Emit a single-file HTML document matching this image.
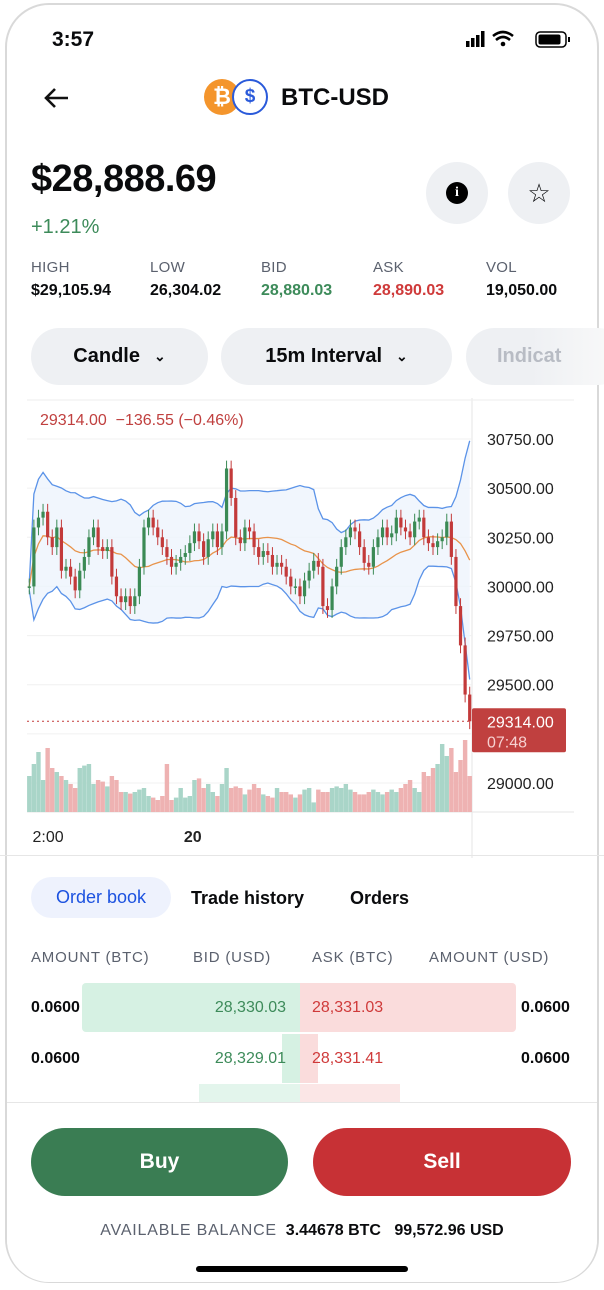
<!DOCTYPE html>
<html><head><meta charset="utf-8"><style>
*{box-sizing:border-box;margin:0;padding:0}
body{width:604px;height:1290px;background:#fff;font-family:"Liberation Sans",sans-serif;position:relative;overflow:hidden;color:#0a0b0d}
.frame{position:absolute;left:5px;top:3px;width:594px;height:1280px;border:2px solid #d9d9d9;border-radius:44px;overflow:hidden;background:#fff}
.abs{position:absolute}
.stat .l{font-size:15px;color:#5b616e;letter-spacing:.3px}
.stat .v{font-size:16px;font-weight:bold;margin-top:6px}
.pill{position:absolute;top:328px;height:57px;border-radius:29px;background:#eef0f3;font-size:20px;font-weight:bold;display:flex;align-items:center;justify-content:center;gap:14px}
.obh{font-size:15px;color:#5b616e;letter-spacing:.8px;top:949px}
.row{font-size:16px;font-weight:bold}
</style></head><body>
<div class="frame"></div>
<div class="abs" style="left:52px;top:28px;font-size:21px;font-weight:bold">3:57</div>
<svg class="abs" style="left:466px;top:30px" width="108" height="18">
<rect x="0" y="11" width="3.5" height="6" fill="#000"/><rect x="5" y="8" width="3.5" height="9" fill="#000"/><rect x="10" y="5" width="3.5" height="12" fill="#000"/><rect x="15" y="1" width="3.5" height="16" fill="#000"/>
<path d="M27 6 Q37 -2 47 6 M30 10 Q37 4 44 10" stroke="#000" stroke-width="2.6" fill="none"/><circle cx="37" cy="14" r="2.3" fill="#000"/>
<rect x="70" y="2" width="30" height="15" rx="4" fill="none" stroke="#000" stroke-width="1.5"/><rect x="72.5" y="4.5" width="22" height="10" rx="2" fill="#000"/><rect x="102" y="7" width="2" height="5" fill="#000"/></svg>
<svg class="abs" style="left:42px;top:86px" width="28" height="24"><path d="M26 12H4 M13 3 L4 12 L13 21" stroke="#111" stroke-width="2.6" fill="none"/></svg>
<div class="abs" style="left:204px;top:79px;width:36px;height:36px;border-radius:50%;background:#f4952c;color:#fff;font-weight:bold;font-size:22px;text-align:center;line-height:36px">₿</div>
<div class="abs" style="left:232px;top:79px;width:36px;height:36px;border-radius:50%;background:#fff;border:2.5px solid #2a5ada;color:#2a5ada;font-weight:bold;font-size:19px;text-align:center;line-height:31px">$</div>
<div class="abs" style="left:281px;top:84px;font-size:24px;font-weight:bold">BTC-USD</div>
<div class="abs" style="left:31px;top:158px;font-size:38px;font-weight:bold;letter-spacing:-.5px">$28,888.69</div>
<div class="abs" style="left:31px;top:216px;font-size:20px;color:#3d8b5a">+1.21%</div>
<div class="abs" style="left:426px;top:162px;width:62px;height:62px;border-radius:50%;background:#eef0f3"><div style="position:absolute;left:20px;top:20px;width:22px;height:22px;border-radius:50%;background:#000;color:#fff;font-size:14px;font-weight:bold;text-align:center;line-height:22px;font-family:'Liberation Serif',serif">i</div></div>
<div class="abs" style="left:508px;top:162px;width:62px;height:62px;border-radius:50%;background:#eef0f3;font-size:26px;text-align:center;line-height:62px">☆</div>
<div class="abs stat" style="left:31px;top:259px"><div class="l">HIGH</div><div class="v">$29,105.94</div></div>
<div class="abs stat" style="left:150px;top:259px"><div class="l">LOW</div><div class="v">26,304.02</div></div>
<div class="abs stat" style="left:261px;top:259px"><div class="l">BID</div><div class="v" style="color:#3d8b5a">28,880.03</div></div>
<div class="abs stat" style="left:373px;top:259px"><div class="l">ASK</div><div class="v" style="color:#cf3a3a">28,890.03</div></div>
<div class="abs stat" style="left:486px;top:259px"><div class="l">VOL</div><div class="v">19,050.00</div></div>
<div class="pill" style="left:31px;width:177px">Candle <span style="font-size:14px">⌄</span></div>
<div class="pill" style="left:221px;width:231px">15m Interval <span style="font-size:14px">⌄</span></div>
<div class="pill" style="left:466px;width:160px;justify-content:flex-start;padding-left:31px;color:#b8bcc4;background:linear-gradient(90deg,#eef0f3 40%,#fafafa)">Indicat</div>
<svg id="chart" class="abs" style="left:0;top:398px" width="604" height="460"></svg>
<div class="abs" style="left:0;top:855px;width:604px;height:1px;background:#e6e6e6"></div>
<div class="abs" style="left:31px;top:877px;width:140px;height:41px;border-radius:21px;background:#eef2fd;color:#1c52e0;font-size:18px;text-align:center;line-height:41px">Order book</div>
<div class="abs" style="left:191px;top:888px;font-size:18px;font-weight:bold">Trade history</div>
<div class="abs" style="left:350px;top:888px;font-size:18px;font-weight:bold">Orders</div>
<div class="abs obh" style="left:31px">AMOUNT (BTC)</div>
<div class="abs obh" style="left:193px">BID (USD)</div>
<div class="abs obh" style="left:312px">ASK (BTC)</div>
<div class="abs obh" style="left:429px">AMOUNT (USD)</div>
<div class="abs" style="left:82px;top:983px;width:218px;height:49px;background:#d6f1e3;border-radius:4px 0 0 4px"></div>
<div class="abs" style="left:300px;top:983px;width:216px;height:49px;background:#fadcdc;border-radius:0 4px 4px 0"></div>
<div class="abs" style="left:282px;top:1034px;width:18px;height:49px;background:#d6f1e3"></div>
<div class="abs" style="left:300px;top:1034px;width:18px;height:49px;background:#fadcdc"></div>
<div class="abs" style="left:199px;top:1084px;width:101px;height:20px;background:#e3f5ec"></div>
<div class="abs" style="left:300px;top:1084px;width:100px;height:20px;background:#fbe6e6"></div>
<div class="abs row" style="left:31px;top:999px">0.0600</div>
<div class="abs row" style="left:200px;top:999px;width:86px;text-align:right;color:#3d8b5a;font-weight:normal">28,330.03</div>
<div class="abs row" style="left:312px;top:999px;color:#cf3a3a;font-weight:normal">28,331.03</div>
<div class="abs row" style="left:521px;top:999px">0.0600</div>
<div class="abs row" style="left:31px;top:1050px">0.0600</div>
<div class="abs row" style="left:200px;top:1050px;width:86px;text-align:right;color:#3d8b5a;font-weight:normal">28,329.01</div>
<div class="abs row" style="left:312px;top:1050px;color:#cf3a3a;font-weight:normal">28,331.41</div>
<div class="abs row" style="left:521px;top:1050px">0.0600</div>
<div class="abs" style="left:7px;top:1102px;width:590px;height:180px;background:#fff;border-top:1px solid #e6e6e6;border-radius:0 0 42px 42px"></div>
<div class="abs" style="left:31px;top:1128px;width:257px;height:68px;border-radius:34px;background:#3a7d53;color:#fff;font-size:21px;font-weight:bold;text-align:center;line-height:68px">Buy</div>
<div class="abs" style="left:313px;top:1128px;width:258px;height:68px;border-radius:34px;background:#c73135;color:#fff;font-size:21px;font-weight:bold;text-align:center;line-height:68px">Sell</div>
<div class="abs" style="left:0;top:1222px;width:604px;text-align:center;font-size:16px"><span style="color:#5b616e;letter-spacing:.8px">AVAILABLE BALANCE</span>&nbsp;&nbsp;<b>3.44678 BTC</b>&nbsp;&nbsp;&nbsp;<b>99,572.96 USD</b></div>
<div class="abs" style="left:196px;top:1266px;width:212px;height:6px;border-radius:3px;background:#000"></div>
<script>
const closes=[30000,30300,30350,30380,30250,30200,30300,30080,30100,30050,29980,30080,30150,30250,30300,30200,30180,30200,30050,29950,29920,29950,29900,29950,30100,30300,30350,30300,30250,30200,30150,30100,30120,30150,30170,30220,30280,30230,30150,30240,30280,30200,30280,30600,30450,30250,30220,30300,30280,30200,30150,30180,30160,30100,30120,30100,30050,30000,30000,29950,30030,30080,30130,30100,29900,29880,30000,30100,30200,30250,30300,30280,30200,30120,30100,30200,30250,30300,30250,30270,30350,30300,30280,30250,30330,30350,30250,30220,30200,30230,30250,30330,30150,29900,29700,29450,29314];
const volumes=[45,60,75,40,80,55,50,45,40,35,30,55,58,60,35,40,38,32,45,40,25,25,23,25,28,30,20,18,15,20,60,15,18,30,18,20,40,42,30,35,25,20,35,55,30,32,30,22,28,35,30,22,20,18,30,25,25,22,18,22,28,30,12,28,25,25,30,32,30,35,28,25,22,22,25,28,25,22,25,28,25,30,35,40,30,25,50,45,55,60,85,70,80,50,65,90,45];
const yTicks=[30750,30500,30250,30000,29750,29500,29000];
const xLabels=["2:00","20"];const xLabelIdx=[2,35];
const lastPrice=29314;
const NS="http://www.w3.org/2000/svg";const svg=document.getElementById('chart');
const OY=398,L=27,R=472;
function y(p){return 439+(30750-p)*0.19657-OY;}
function x(i){return L+(i+0.5)*(R-L)/closes.length;}
const cw=(R-L)/closes.length*0.7;
function mk(t,a){const e=document.createElementNS(NS,t);for(const k in a)e.setAttribute(k,a[k]);svg.appendChild(e);return e;}
let e;
e=mk('line',{x1:R,y1:0,x2:R,y2:460,stroke:'#e6e6e6'});
mk('line',{x1:27,y1:2,x2:574,y2:2,stroke:'#eee'});
mk('line',{x1:27,y1:414,x2:574,y2:414,stroke:'#e6e6e6'});
yTicks.concat([29250]).forEach(t=>{mk('line',{x1:L,y1:y(t),x2:R,y2:y(t),stroke:'#f0f0f0'});});
yTicks.forEach(t=>{e=mk('text',{x:487,y:y(t)+6,'font-size':16,fill:'#222'});e.textContent=t.toFixed(2);});
xLabels.forEach((s,k)=>{e=mk('text',{x:x(xLabelIdx[k])-6,y:444,'font-size':16,fill:'#222','font-weight':k?'bold':'normal'});e.textContent=s;});
const N=20,mid=[],up=[],lo=[];
closes.forEach((c,i)=>{const s=closes.slice(Math.max(0,i-N+1),i+1);const m=s.reduce((a,b)=>a+b,0)/s.length;const sd=Math.sqrt(s.reduce((a,b)=>a+(b-m)*(b-m),0)/s.length);mid.push(m);up.push(m+2*sd+20);lo.push(m-2*sd-20);});
const pts=a=>a.map((v,i)=>x(i)+','+y(v)).join(' ');
e=mk('polygon',{points:pts(up)+' '+lo.map((v,i)=>x(i)+','+y(v)).reverse().join(' '),fill:'#eef4fd',opacity:.8});
closes.forEach((c,i)=>{const o=i?closes[i-1]:c;const h=volumes[i]*0.8;e=mk('rect',{x:x(i)-cw/2-0.6,y:414-h,width:cw+1.2,height:h,fill:c>=o?'#a9d5c8':'#eeb2b2'});});
e=mk('polyline',{points:pts(up),fill:'none',stroke:'#5b93e8','stroke-width':1.3});
e=mk('polyline',{points:pts(lo),fill:'none',stroke:'#5b93e8','stroke-width':1.3});
e=mk('polyline',{points:pts(mid),fill:'none',stroke:'#e8934a','stroke-width':1.3});
closes.forEach((c,i)=>{const o=i?closes[i-1]:c;const col=c>=o?'#3b8a55':'#c33a3a';const hi=Math.max(o,c)+40,lw=Math.min(o,c)-40;
e=mk('line',{x1:x(i),x2:x(i),y1:y(hi),y2:y(lw),stroke:col,'stroke-width':1});
e=mk('rect',{x:x(i)-cw/2,y:y(Math.max(o,c)),width:cw,height:Math.max(1.5,Math.abs(y(o)-y(c))),fill:col});});
e=mk('line',{x1:L,x2:R,y1:y(lastPrice),y2:y(lastPrice),stroke:'#c33a3a','stroke-dasharray':'2 3'});
e=mk('rect',{x:R,y:y(lastPrice)-13,width:94,height:44,rx:2,fill:'#c0403f'});
e=mk('text',{x:487,y:y(lastPrice)+6,'font-size':16,fill:'#fff'});e.textContent=lastPrice.toFixed(2);
e=mk('text',{x:487,y:y(lastPrice)+26,'font-size':16,fill:'#f6d0d0'});e.textContent='07:48';
e=mk('text',{x:40,y:27,'font-size':16,fill:'#c0403f'});e.textContent='29314.00  −136.55 (−0.46%)';
e.style.whiteSpace='pre';
</script>
</body></html>
